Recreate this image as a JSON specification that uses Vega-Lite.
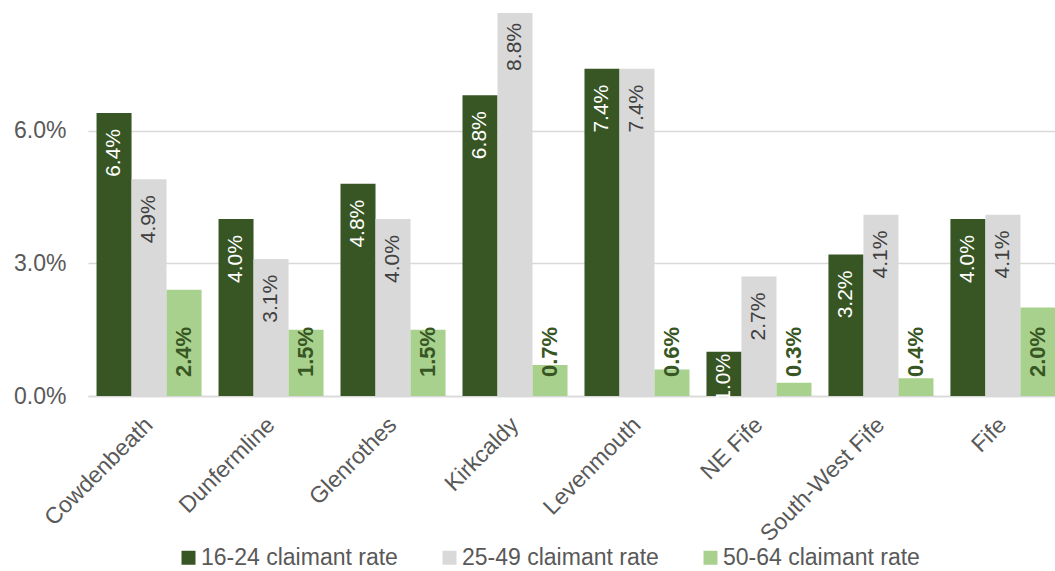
{
  "$schema": "https://vega.github.io/schema/vega-lite/v6.json",
  "autosize": "none",
  "width": 976,
  "height": 383,
  "padding": {"left": 88, "top": 13, "right": -9, "bottom": 175},
  "background": "white",
  "title": {
    "text": "Figure 10: Claimant count rate by age",
    "anchor": "start",
    "frame": "group",
    "dx": -69,
    "offset": 10,
    "baseline": "alphabetic",
    "font": "Liberation Sans",
    "fontSize": 24,
    "fontWeight": "bold",
    "color": "#000000"
  },
  "config": {
    "view": {"stroke": null},
    "font": "Liberation Sans"
  },
  "data": {
    "values": [
      {"area": "Cowdenbeath", "group": "16-24 claimant rate", "rate": 0.064},
      {"area": "Cowdenbeath", "group": "25-49 claimant rate", "rate": 0.049},
      {"area": "Cowdenbeath", "group": "50-64 claimant rate", "rate": 0.024},
      {"area": "Dunfermline", "group": "16-24 claimant rate", "rate": 0.040},
      {"area": "Dunfermline", "group": "25-49 claimant rate", "rate": 0.031},
      {"area": "Dunfermline", "group": "50-64 claimant rate", "rate": 0.015},
      {"area": "Glenrothes", "group": "16-24 claimant rate", "rate": 0.048},
      {"area": "Glenrothes", "group": "25-49 claimant rate", "rate": 0.040},
      {"area": "Glenrothes", "group": "50-64 claimant rate", "rate": 0.015},
      {"area": "Kirkcaldy", "group": "16-24 claimant rate", "rate": 0.068},
      {"area": "Kirkcaldy", "group": "25-49 claimant rate", "rate": 0.088},
      {"area": "Kirkcaldy", "group": "50-64 claimant rate", "rate": 0.007},
      {"area": "Levenmouth", "group": "16-24 claimant rate", "rate": 0.074},
      {"area": "Levenmouth", "group": "25-49 claimant rate", "rate": 0.074},
      {"area": "Levenmouth", "group": "50-64 claimant rate", "rate": 0.006},
      {"area": "NE Fife", "group": "16-24 claimant rate", "rate": 0.010},
      {"area": "NE Fife", "group": "25-49 claimant rate", "rate": 0.027},
      {"area": "NE Fife", "group": "50-64 claimant rate", "rate": 0.003},
      {"area": "South-West Fife", "group": "16-24 claimant rate", "rate": 0.032},
      {"area": "South-West Fife", "group": "25-49 claimant rate", "rate": 0.041},
      {"area": "South-West Fife", "group": "50-64 claimant rate", "rate": 0.004},
      {"area": "Fife", "group": "16-24 claimant rate", "rate": 0.040},
      {"area": "Fife", "group": "25-49 claimant rate", "rate": 0.041},
      {"area": "Fife", "group": "50-64 claimant rate", "rate": 0.020}
    ]
  },
  "encoding": {
    "x": {
      "field": "area",
      "type": "nominal",
      "sort": null,
      "scale": {"paddingInner": 0.139, "paddingOuter": 0.07},
      "axis": {
        "title": null,
        "labelAngle": -45,
        "labelAlign": "right",
        "labelBaseline": "middle",
        "labelFontSize": 23,
        "labelColor": "#595959",
        "labelPadding": 25,
        "labelLimit": 0,
        "ticks": false,
        "domainColor": "#d9d9d9",
        "domainWidth": 1.5,
        "grid": false
      }
    },
    "xOffset": {
      "field": "group",
      "type": "nominal",
      "sort": ["16-24 claimant rate", "25-49 claimant rate", "50-64 claimant rate"],
      "scale": {"paddingInner": 0, "paddingOuter": 0}
    },
    "y": {
      "field": "rate",
      "type": "quantitative",
      "scale": {"domain": [0, 0.0866], "nice": false, "clamp": true},
      "axis": {
        "title": null,
        "values": [0, 0.03, 0.06],
        "format": ".1%",
        "labelFontSize": 23,
        "labelColor": "#595959",
        "labelPadding": 22,
        "ticks": false,
        "domain": false,
        "grid": true,
        "gridColor": "#d9d9d9",
        "gridWidth": 1.5
      }
    }
  },
  "layer": [
    {
      "mark": {"type": "bar"},
      "encoding": {
        "color": {
          "field": "group",
          "type": "nominal",
          "scale": {
            "domain": ["16-24 claimant rate", "25-49 claimant rate", "50-64 claimant rate"],
            "range": ["#375623", "#d9d9d9", "#a9d18e"]
          },
          "legend": {
            "title": null,
            "orient": "none",
            "legendX": 89,
            "legendY": 533,
            "direction": "horizontal",
            "symbolType": "square",
            "symbolSize": 196,
            "symbolStrokeWidth": 0,
            "labelFontSize": 23,
            "labelColor": "#595959",
            "labelOffset": 1,
            "labelLimit": 0,
            "columnPadding": 40
          }
        }
      }
    },
    {
      "transform": [{"filter": "datum.group === '16-24 claimant rate' && datum.rate >= 0.02"}],
      "mark": {"type": "text", "angle": 270, "align": "right", "baseline": "middle", "dx": -16, "fontSize": 21, "color": "#ffffff"},
      "encoding": {"text": {"field": "rate", "type": "quantitative", "format": ".1%"}}
    },
    {
      "transform": [{"filter": "datum.group === '16-24 claimant rate' && datum.rate < 0.02"}],
      "mark": {"type": "text", "angle": 270, "align": "right", "baseline": "middle", "dx": -2, "fontSize": 21, "color": "#ffffff"},
      "encoding": {"text": {"field": "rate", "type": "quantitative", "format": ".1%"}}
    },
    {
      "transform": [{"filter": "datum.group === '25-49 claimant rate' && datum.rate < 0.08"}],
      "mark": {"type": "text", "angle": 270, "align": "right", "baseline": "middle", "dx": -16, "fontSize": 21, "color": "#404040"},
      "encoding": {"text": {"field": "rate", "type": "quantitative", "format": ".1%"}}
    },
    {
      "transform": [{"filter": "datum.group === '25-49 claimant rate' && datum.rate >= 0.08"}],
      "mark": {"type": "text", "angle": 270, "align": "right", "baseline": "middle", "dx": -10, "fontSize": 21, "color": "#404040"},
      "encoding": {"text": {"field": "rate", "type": "quantitative", "format": ".1%"}}
    },
    {
      "transform": [{"filter": "datum.group === '50-64 claimant rate'"}],
      "mark": {"type": "text", "angle": 270, "align": "left", "baseline": "middle", "dx": 19, "fontSize": 22, "fontWeight": "bold", "color": "#375623"},
      "encoding": {
        "y": {"datum": 0, "type": "quantitative"},
        "text": {"field": "rate", "type": "quantitative", "format": ".1%"}
      }
    }
  ]
}
